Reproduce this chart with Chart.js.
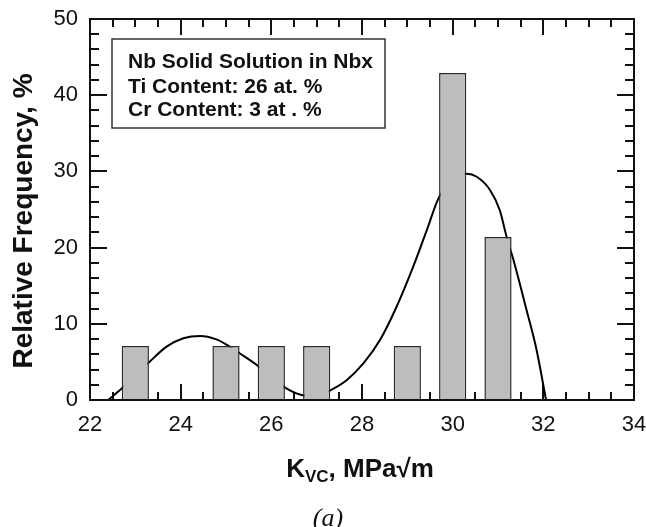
<!DOCTYPE html>
<html>
<head>
<meta charset="utf-8">
<script src="https://cdn.jsdelivr.net/npm/chart.js@4.4.0/dist/chart.umd.min.js"></script>
<style>
  html, body { margin: 0; padding: 0; background: #fff; }
</style>
</head>
<body>
<canvas id="myChart" width="646" height="527"></canvas>
<script>
// histogram: bin centre (MPa√m) and relative frequency (%)
var binCenters = [23, 25, 26, 27, 29, 30, 31];
var frequencies = [7.1, 7.1, 7.1, 7.1, 7.1, 42.9, 21.4];

// fitted curve
var curveX = [22.4, 22.7, 23.0, 23.31, 23.69, 24.06, 24.43, 24.79, 25.0, 25.31, 25.68, 26.0, 26.34, 26.71, 27.0,
  27.31, 27.66, 28.03, 28.4, 28.76, 29.13, 29.43, 29.69, 30.0, 30.31, 30.53, 30.82, 31.04, 31.19, 31.34, 31.63, 31.85, 32.06];
var curveY = [0, 1.5, 3.3, 5.0, 7.0, 8.1, 8.4, 7.95, 7.3, 6.1, 4.6, 3.0, 1.5, 0.6, 0.5,
  1.3, 2.6, 4.8, 7.9, 12.2, 17.5, 22.3, 26.5, 29.0, 29.7, 29.3, 27.6, 24.9, 21.4, 18.4, 11.8, 6.6, 0];

// tick labels
var xTickValues = [22, 24, 26, 28, 30, 32, 34];
var yTickValues = [0, 10, 20, 30, 40, 50];

var noteLines = ["Nb Solid Solution in Nbx", "Ti Content: 26 at. %", "Cr Content: 3 at . %"];
var yTitle = "Relative Frequency, %";
var caption = "(a)";

var FONT = "'Liberation Sans', Arial, Helvetica, sans-serif";
var INK = "#111";

// scales: no extra padding for overhanging labels, the layout padding handles it
function noPad(s) {
  s.paddingLeft = 0; s.paddingRight = 0; s.paddingTop = 0; s.paddingBottom = 0;
}

// inward ticks on all four sides, frame, note box and axis titles
var paperLook = {
  id: "paperLook",
  beforeDatasetsDraw: function (chart) {
    var ctx = chart.ctx, a = chart.chartArea;
    var xs = chart.scales.x, ys = chart.scales.y;
    ctx.save();
    ctx.strokeStyle = INK;
    ctx.lineWidth = 2;
    ctx.beginPath();
    for (var i = 0; i <= 24; i++) {
      var v = 22 + i * 0.5;
      var px = Math.round(xs.getPixelForValue(v));
      var len = i % 4 === 0 ? 16 : 8;
      ctx.moveTo(px, a.bottom); ctx.lineTo(px, a.bottom - len);
      ctx.moveTo(px, a.top); ctx.lineTo(px, a.top + len);
    }
    for (var j = 0; j <= 25; j++) {
      var py = Math.round(ys.getPixelForValue(j * 2));
      var l2 = j % 5 === 0 ? 17 : 9;
      ctx.moveTo(a.left, py); ctx.lineTo(a.left + l2, py);
      ctx.moveTo(a.right, py); ctx.lineTo(a.right - l2, py);
    }
    ctx.stroke();
    ctx.restore();
  },
  afterDatasetsDraw: function (chart) {
    var ctx = chart.ctx, a = chart.chartArea;
    ctx.save();
    ctx.strokeStyle = INK;
    ctx.lineWidth = 2;
    ctx.strokeRect(a.left, a.top, a.right - a.left, a.bottom - a.top);

    // note box
    var bx = a.left + 22, by = a.top + 20;
    ctx.lineWidth = 1.5;
    ctx.strokeStyle = "#333";
    ctx.fillStyle = "#fff";
    ctx.fillRect(bx, by, 273, 89);
    ctx.strokeRect(bx, by, 273, 89);
    ctx.fillStyle = INK;
    ctx.font = "bold 21px " + FONT;
    ctx.textAlign = "left";
    ctx.textBaseline = "alphabetic";
    var offs = [29, 54, 77];
    noteLines.forEach(function (t, k) { ctx.fillText(t, bx + 16, by + offs[k]); });

    // y title
    ctx.save();
    ctx.translate(24, 221);
    ctx.rotate(-Math.PI / 2);
    ctx.textAlign = "center";
    ctx.textBaseline = "middle";
    ctx.font = "bold 28px " + FONT;
    ctx.fillText(yTitle, 0, 0);
    ctx.restore();

    // x title with subscript: K_VC, MPa√m
    var big = "bold 26px " + FONT, small = "bold 17px " + FONT;
    ctx.font = big; var wK = ctx.measureText("K").width;
    var wRest = ctx.measureText(", MPa\u221Am").width;
    ctx.font = small; var wSub = ctx.measureText("VC").width;
    var x0 = 360 - (wK + wSub + wRest) / 2, base = 477;
    ctx.textAlign = "left";
    ctx.font = big; ctx.fillText("K", x0, base);
    ctx.font = small; ctx.fillText("VC", x0 + wK, base + 5);
    ctx.font = big; ctx.fillText(", MPa\u221Am", x0 + wK + wSub, base);

    // caption
    ctx.font = "italic 26px 'Liberation Serif', 'Times New Roman', serif";
    ctx.textAlign = "center";
    ctx.fillText(caption, 328, 526);
    ctx.restore();
  }
};

var ctx = document.getElementById("myChart").getContext("2d");
var chart = new Chart(ctx, {
  type: "bar",
  data: {
    datasets: [
      {
        type: "bar",
        data: binCenters.map(function (x, i) { return { x: x, y: frequencies[i] }; }),
        backgroundColor: "#bdbdbd",
        borderColor: "#2a2a2a",
        borderWidth: 1.5,
        barPercentage: 0.6,
        categoryPercentage: 1,
        order: 0,
      },
      {
        type: "line",
        data: curveX.map(function (x, i) { return { x: x, y: curveY[i] }; }),
        borderColor: "#000",
        borderWidth: 2,
        pointRadius: 0,
        fill: false,
        cubicInterpolationMode: "monotone",
        order: 1,
      },
    ],
  },
  options: {
    responsive: false,
    devicePixelRatio: 1,
    animation: false,
    layout: { padding: { top: 19, right: 12, left: 0, bottom: 0 } },
    plugins: { legend: { display: false }, tooltip: { enabled: false } },
    scales: {
      x: {
        type: "linear",
        min: 22,
        max: 34,
        offset: false,
        grid: { display: false, drawTicks: false, offset: false },
        border: { display: false },
        afterBuildTicks: function (s) { s.ticks = xTickValues.map(function (v) { return { value: v }; }); },
        afterFit: function (s) { s.height = 127; noPad(s); },
        ticks: { padding: 12, color: INK, font: { family: FONT, size: 22 }, maxRotation: 0 },
      },
      y: {
        min: 0,
        max: 50,
        grid: { display: false, drawTicks: false },
        border: { display: false },
        afterBuildTicks: function (s) { s.ticks = yTickValues.map(function (v) { return { value: v }; }); },
        afterFit: function (s) { s.width = 90; noPad(s); },
        ticks: { padding: 12, color: INK, font: { family: FONT, size: 22 } },
      },
    },
  },
  plugins: [paperLook],
});
</script>
</body>
</html>
